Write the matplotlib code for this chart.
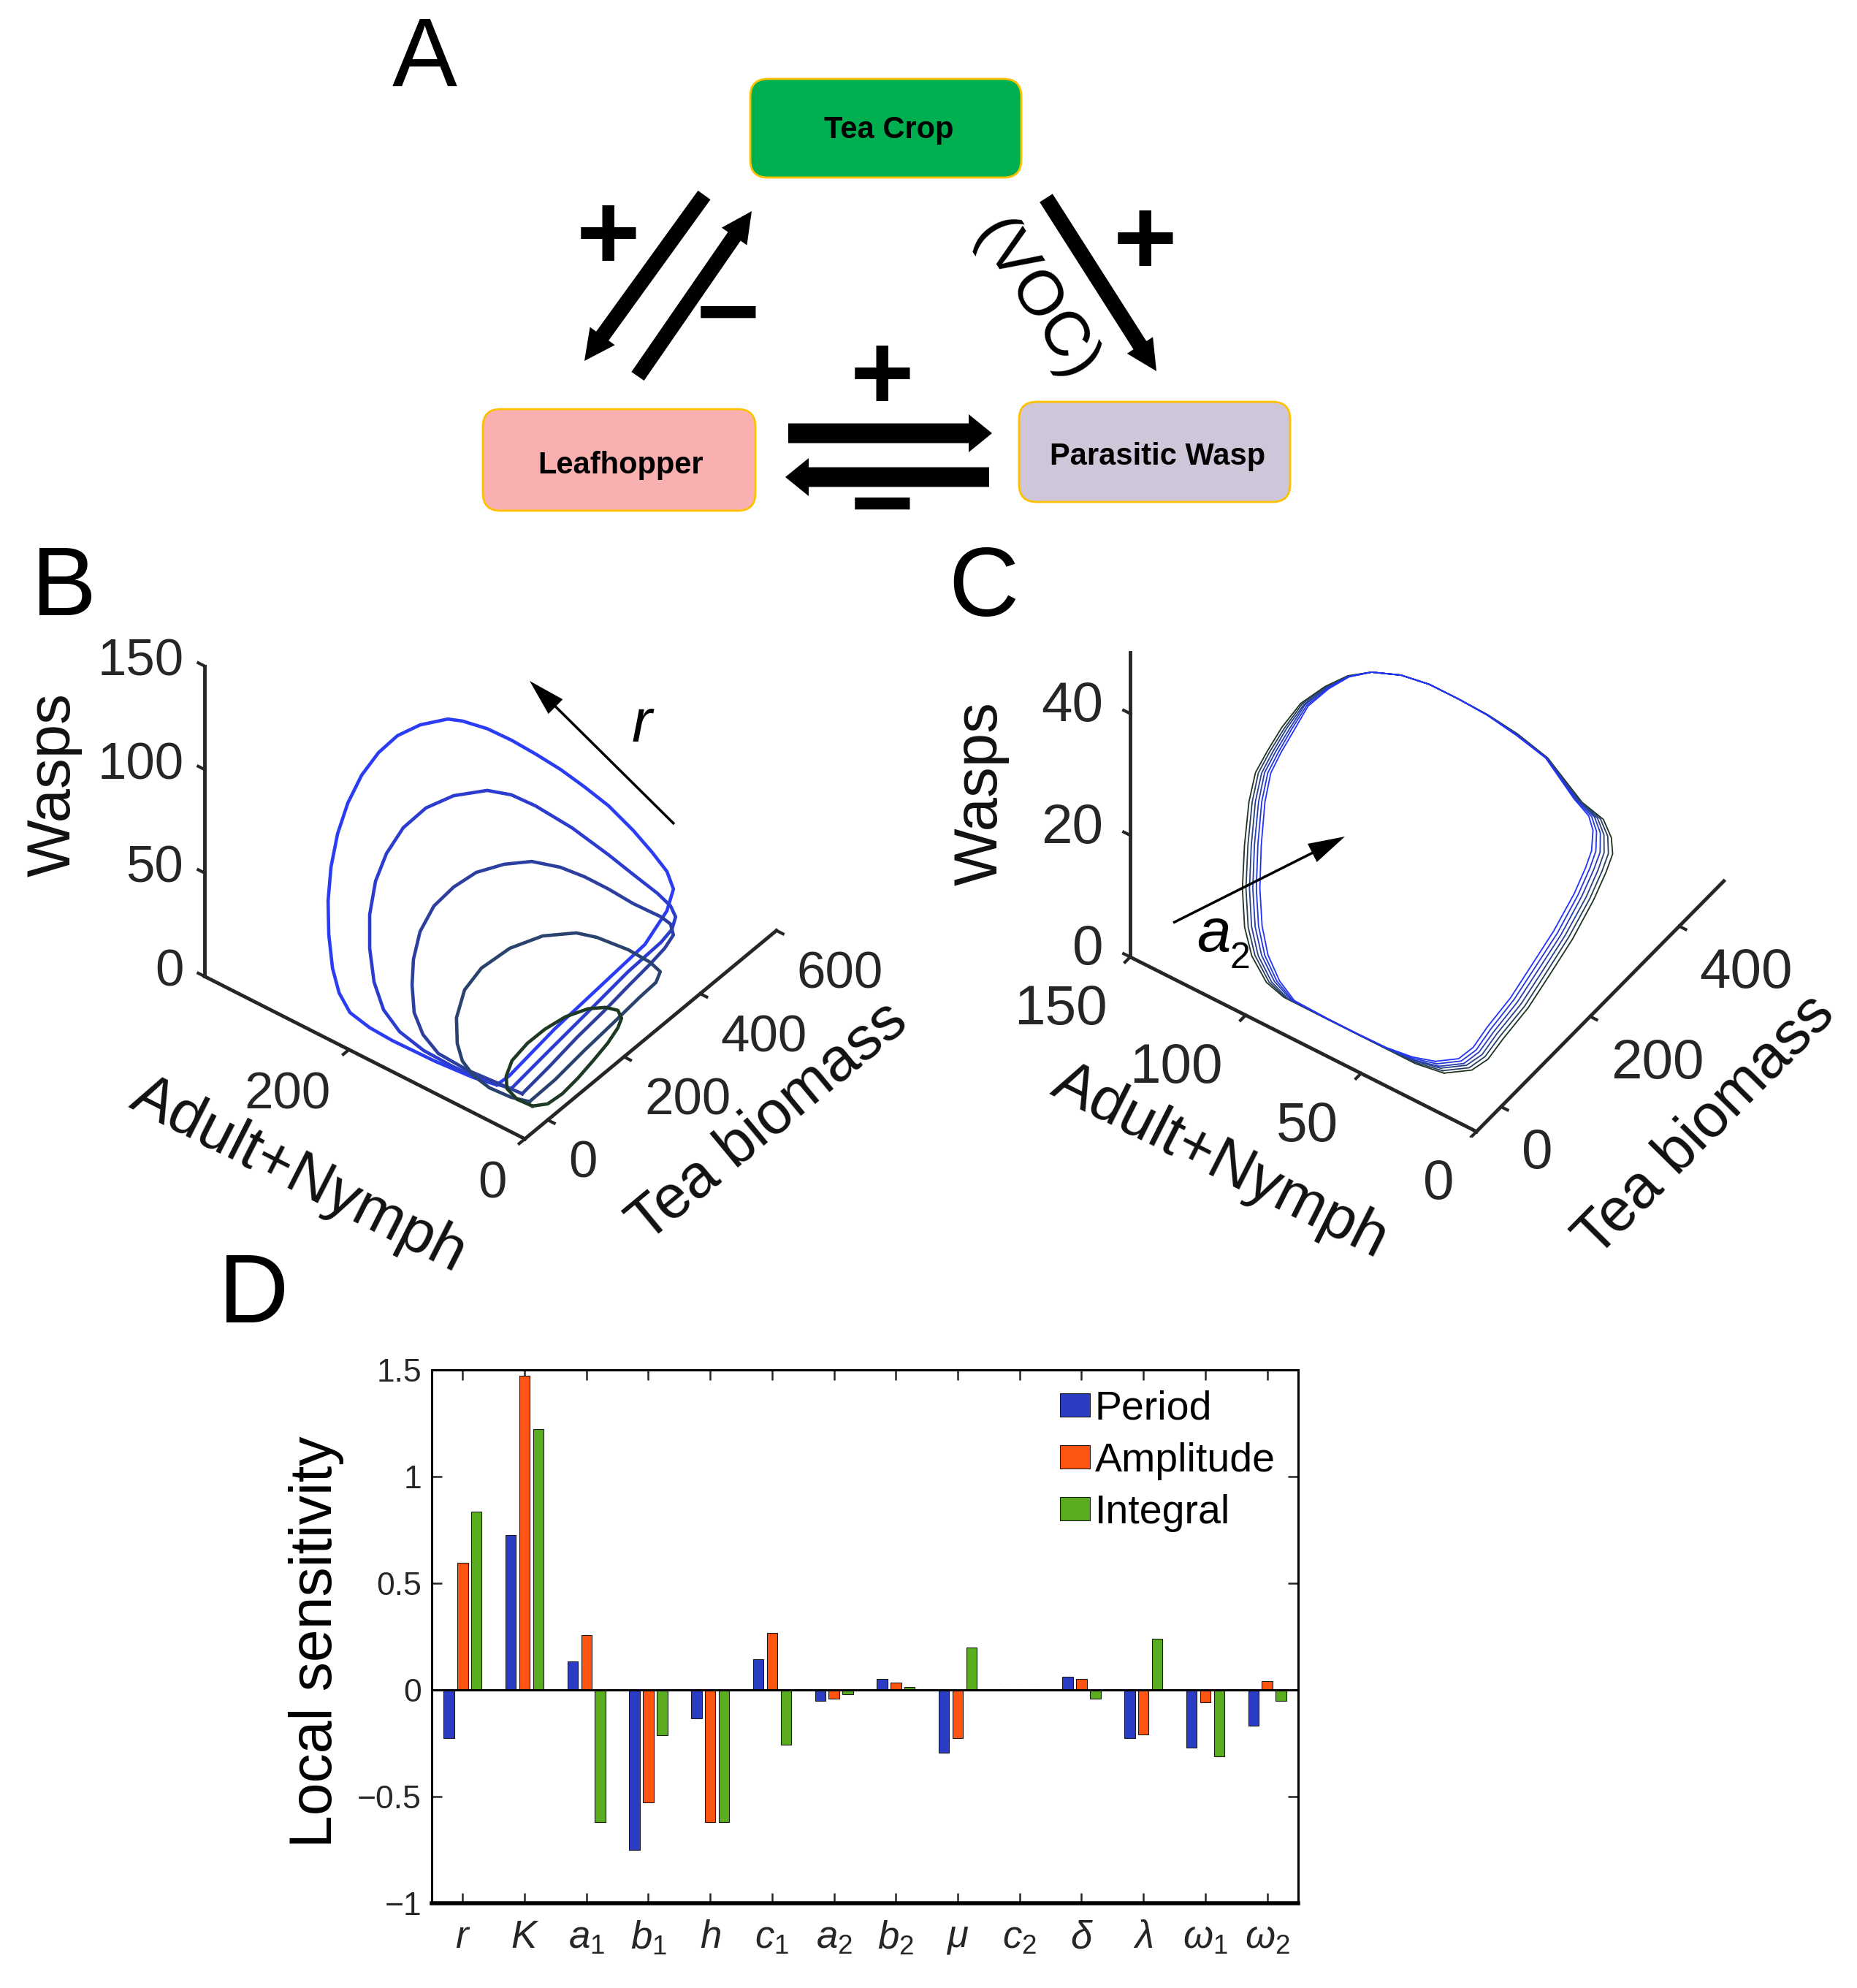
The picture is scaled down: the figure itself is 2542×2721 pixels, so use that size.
import numpy as np
import matplotlib
matplotlib.use('Agg')
import matplotlib.pyplot as plt
from matplotlib.patches import FancyBboxPatch, FancyArrow
from mpl_toolkits.mplot3d import proj3d

plt.rcParams['font.family'] = 'Liberation Sans'
plt.rcParams['mathtext.fontset'] = 'custom'
plt.rcParams['mathtext.it'] = 'Liberation Sans:italic'
plt.rcParams['mathtext.rm'] = 'Liberation Sans'

W_PX, H_PX = 2542, 2721

# ---------------- panel D : local sensitivity ----------------
params = [r'$r$', r'$K$', r'$a_1$', r'$b_1$', r'$h$', r'$c_1$', r'$a_2$', r'$b_2$',
          r'$\mu$', r'$c_2$', r'$\delta$', r'$\lambda$', r'$\omega_1$', r'$\omega_2$']
period = [-0.226, 0.727, 0.134, -0.751, -0.134, 0.143, -0.050, 0.052, -0.296, 0.003, 0.061, -0.226, -0.272, -0.168]
amplitude = [0.597, 1.472, 0.258, -0.526, -0.621, 0.268, -0.040, 0.033, -0.226, 0.002, 0.052, -0.210, -0.057, 0.042]
integral = [0.837, 1.224, -0.621, -0.214, -0.621, -0.258, -0.021, 0.013, 0.200, 0.002, -0.040, 0.239, -0.312, -0.050]

# ---------------- panel B : cycles for increasing r (tea, adult+nymph, wasps) ----------------
tea_b1 = [10, 25, 130, 240, 345, 420, 450, 455, 450, 438, 410, 385, 360, 335, 310, 280, 250, 230, 195, 165,
          135, 105, 80, 60, 42, 28, 18, 10, 6, 4, 3, 1, 1, 3]
adult_b1 = [62.4, 54.8, 48.0, 44.2, 39.0, 46.6, 52.1, 61.7, 76.2, 92.5, 108.6, 125.2, 141.7, 159.2, 175.7, 190.1,
            205.3, 213.3, 229.6, 242.4, 251.0, 257.1, 262.0, 265.0, 264.7, 261.9, 256.8, 249.1, 239.9, 226.6,
            203.8, 177.2, 128.2, 86.0]
wasp_b1 = [2.0, 5.6, 14.0, 18.5, 23.8, 26.9, 31.7, 37.4, 44.2, 53.1, 65.9, 75.3, 84.0, 91.5, 98.4, 105.4, 110.4,
           112.7, 111.7, 108.3, 102.8, 95.2, 84.5, 72.0, 58.7, 45.1, 31.5, 18.2, 8.8, 2.4, 0.2, 0.0, 0.5, 1.5]

tea_b2 = [20, 100, 190, 300, 385, 415, 425, 425, 418, 400, 375, 340, 300, 270, 240, 195, 155, 120, 90, 65,
          42, 25, 12, 6, 3, 3, 3, 5]
adult_b2 = [50.1, 47.5, 40.7, 38.6, 38.1, 38.6, 38.8, 44.6, 56.5, 76.1, 93.4, 119.8, 144.0, 158.4, 172.8, 191.5,
            205.7, 216.3, 222.4, 224.0, 220.7, 213.3, 202.7, 189.3, 169.8, 142.4, 109.2, 76.8]
wasp_b2 = [1.3, 5.6, 12.7, 17.6, 18.9, 20.5, 25.0, 29.0, 33.6, 41.2, 50.8, 63.5, 75.0, 81.8, 85.4, 85.7, 82.8,
           76.3, 67.1, 57.2, 45.2, 33.1, 21.1, 11.5, 5.6, 2.4, 1.8, 2.1]

tea_b3 = [20, 90, 160, 225, 290, 345, 380, 400, 402, 390, 372, 350, 325, 300, 270, 232, 190, 150, 112, 75,
          45, 25, 12, 6, 4, 4, 8]
adult_b3 = [37.7, 37.3, 36.1, 32.7, 34.3, 33.2, 31.7, 30.5, 34.6, 40.2, 64.0, 82.7, 99.2, 115.8, 135.2, 150.2,
            163.6, 172.0, 177.9, 177.7, 172.2, 165.1, 157.1, 144.5, 126.2, 93.0, 53.3]
wasp_b3 = [1.5, 4.0, 7.7, 11.6, 13.0, 15.5, 18.2, 21.8, 25.9, 30.0, 34.0, 40.4, 46.6, 51.4, 54.6, 55.8, 55.4,
           52.6, 48.0, 41.3, 33.7, 25.9, 16.2, 9.2, 4.3, 3.4, 3.8]

tea_b4 = [15, 75, 150, 220, 285, 325, 340, 335, 315, 280, 250, 200, 150, 100, 60, 30, 14, 8, 5, 5, 8]
adult_b4 = [27.2, 24.2, 23.5, 20.6, 19.7, 17.9, 19.4, 28.9, 45.1, 65.6, 75.9, 92.4, 108.1, 118.8, 120.6, 116.8,
            109.0, 100.6, 86.8, 68.5, 45.0]
wasp_b4 = [0.7, 2.8, 5.6, 9.0, 11.3, 13.0, 15.6, 18.9, 24.5, 31.4, 35.9, 38.5, 36.8, 32.5, 27.7, 19.6, 11.4,
           5.6, 2.0, 0.0, 0.0]

tea_b5 = [10, 30, 65, 110, 150, 185, 212, 225, 225, 210, 180, 140, 105, 80, 45, 25, 15, 10]
adult_b5 = [21.7, 13.0, 11.5, 13.6, 13.5, 12.0, 12.1, 13.6, 17.8, 25.4, 32.3, 40.7, 48.8, 57.8, 60.2, 58.1,
            52.9, 39.2]
wasp_b5 = [0.5, 0.4, 0.3, 0.4, 2.8, 6.3, 9.6, 11.9, 14.8, 16.9, 19.3, 19.7, 17.3, 12.4, 8.8, 4.8, 1.5, 0.0]

colors_b = ['#2b3cf5', '#2b3ccf', '#2c3f9f', '#29436e', '#1f3a24']

# ---------------- panel C : cycles for six a2 values (c0 = largest a2, innermost) ----------------
tea_c0 = [10, 35, 60, 90, 125, 160, 190, 220, 235, 240, 238, 232, 220, 200, 190, 180, 170, 160, 148, 135,
          120, 108, 95, 80, 70, 60, 48, 35, 20, 10, 5, 3, 2, 1, 1, 2, 4]
adult_c0 = [30.4, 25.1, 23.6, 23.4, 20.0, 17.9, 13.9, 10.8, 8.7, 7.1, 6.1, 6.8, 10.8, 19.3, 30.0, 40.8, 51.2,
            61.9, 71.9, 82.1, 89.0, 95.5, 101.9, 105.0, 108.8, 111.3, 111.5, 110.6, 108.3, 105.4, 101.9, 96.5,
            89.9, 75.0, 62.2, 50.1, 39.1]
wasp_c0 = [0.9, 0.5, 0.8, 1.9, 4.8, 7.8, 12.1, 16.6, 20.2, 22.9, 26.6, 29.3, 32.2, 38.8, 41.2, 43.2, 44.6,
           45.7, 46.2, 45.7, 44.7, 42.4, 39.3, 35.9, 32.2, 29.1, 25.2, 19.2, 13.7, 8.8, 5.1, 2.0, 0.1, 0.0,
           0.0, 0.0, 0.4]

tea_c1 = [8.5, 33.4, 58.3, 89, 125, 161, 193, 223, 238.4, 244.4, 242.4, 236, 222, 201, 190.4, 180.4, 170,
          160, 148, 135, 119.6, 107.4, 94, 78.4, 68, 58, 46, 33.6, 18.8, 9.2, 4.6, 2.6, 1.6, 0.8, 0.8, 1.6, 3.2]
adult_c1 = [29.4, 23.7, 22.0, 21.8, 18.5, 16.5, 12.8, 9.7, 7.6, 6.1, 5.4, 6.3, 10.5, 19.3, 30.0, 40.8, 51.2,
            61.9, 71.9, 82.1, 89.0, 95.7, 102.3, 105.8, 109.6, 112.2, 112.5, 111.8, 109.6, 106.8, 103.2, 97.6,
            90.7, 75.3, 62.4, 50.0, 38.7]
wasp_c1 = [0.8, 0.5, 0.8, 1.9, 4.8, 7.7, 11.8, 16.4, 20.0, 22.7, 26.2, 29.0, 32.0, 38.7, 41.2, 43.2, 44.6,
           45.7, 46.2, 45.7, 44.8, 42.5, 39.4, 36.0, 32.2, 29.1, 25.2, 19.1, 13.5, 8.6, 4.8, 1.8, 0.1, 0.0,
           0.0, 0.0, 0.3]

tea_c2 = [7.1, 31.8, 56.6, 88, 125, 162, 196, 226, 241.8, 248.8, 246.8, 240, 224, 202, 190.8, 180.8, 170,
          160, 148, 135, 119.2, 106.8, 93, 76.8, 66, 56, 44, 32.2, 17.6, 8.4, 4.2, 2.2, 1.2, 0.6, 0.6, 1.2, 2.4]
adult_c2 = [28.3, 22.2, 20.4, 20.2, 17.0, 15.1, 11.8, 8.6, 6.5, 5.1, 4.6, 5.8, 10.2, 19.3, 29.9, 40.8, 51.2,
            61.9, 71.9, 82.1, 89.1, 95.9, 102.8, 106.5, 110.4, 113.2, 113.5, 113.0, 110.9, 108.1, 104.5, 98.6,
            91.5, 75.6, 62.5, 49.9, 38.3]
wasp_c2 = [0.7, 0.5, 0.9, 1.9, 4.7, 7.6, 11.5, 16.2, 19.8, 22.4, 25.8, 28.7, 31.8, 38.6, 41.2, 43.2, 44.6,
           45.7, 46.2, 45.7, 44.8, 42.6, 39.5, 36.0, 32.3, 29.1, 25.1, 19.0, 13.4, 8.3, 4.6, 1.6, 0.1, 0.0,
           0.0, 0.0, 0.2]

tea_c3 = [5.6, 30.1, 54.9, 87, 125, 163, 199, 229, 245.2, 253.2, 251.2, 244, 226, 203, 191.2, 181.2, 170,
          160, 148, 135, 118.8, 106.2, 92, 75.2, 64, 54, 42, 30.8, 16.4, 7.6, 3.8, 1.8, 0.8, 0.4, 0.4, 0.8, 1.6]
adult_c3 = [27.3, 20.8, 18.8, 18.7, 15.4, 13.8, 10.7, 7.4, 5.3, 4.2, 3.9, 5.3, 9.9, 19.3, 29.9, 40.8, 51.2,
            61.9, 71.9, 82.1, 89.1, 96.1, 103.2, 107.3, 111.2, 114.1, 114.5, 114.1, 112.1, 109.5, 105.9, 99.7,
            92.4, 76.0, 62.7, 49.9, 37.8]
wasp_c3 = [0.7, 0.6, 0.9, 1.9, 4.7, 7.4, 11.3, 16.0, 19.7, 22.2, 25.3, 28.3, 31.6, 38.6, 41.3, 43.1, 44.6,
           45.7, 46.2, 45.7, 44.9, 42.6, 39.5, 36.1, 32.3, 29.0, 25.1, 18.8, 13.2, 8.1, 4.3, 1.3, 0.0, 0.0,
           0.0, 0.0, 0.2]

tea_c4 = [4.2, 28.5, 53.2, 86, 125, 164, 202, 232, 248.6, 257.6, 255.6, 248, 228, 204, 191.6, 181.6, 170,
          160, 148, 135, 118.4, 105.6, 91, 73.6, 62, 52, 40, 29.4, 15.2, 6.8, 3.4, 1.4, 0.4, 0.2, 0.2, 0.4, 0.8]
adult_c4 = [26.2, 19.3, 17.2, 17.1, 13.9, 12.4, 9.7, 6.3, 4.2, 3.2, 3.1, 4.8, 9.6, 19.3, 29.8, 40.8, 51.2,
            61.9, 71.9, 82.1, 89.2, 96.3, 103.7, 108.0, 112.0, 115.1, 115.5, 115.3, 113.4, 110.8, 107.2, 100.7,
            93.2, 76.3, 62.8, 49.8, 37.4]
wasp_c4 = [0.6, 0.6, 1.0, 1.9, 4.6, 7.3, 11.0, 15.8, 19.5, 21.9, 24.9, 28.0, 31.4, 38.5, 41.3, 43.1, 44.6,
           45.7, 46.2, 45.7, 44.9, 42.7, 39.6, 36.1, 32.4, 29.0, 25.0, 18.7, 13.1, 7.8, 4.1, 1.1, 0.0, 0.0,
           0.0, 0.0, 0.1]

tea_c5 = [2.7, 26.9, 51.5, 85, 125, 165, 205, 235, 252, 262, 260, 252, 230, 205, 192, 182, 170, 160, 148, 135,
          118, 105, 90, 72, 60, 50, 38, 28, 14, 6, 3, 1, 0, 0, 0, 0, 0]
adult_c5 = [25.2, 17.9, 15.6, 15.5, 12.4, 11.0, 8.6, 5.2, 3.1, 2.2, 2.4, 4.3, 9.3, 19.3, 29.8, 40.8, 51.2,
            61.9, 71.9, 82.1, 89.2, 96.5, 104.1, 108.8, 112.8, 116.0, 116.5, 116.5, 114.7, 112.2, 108.5, 101.8,
            94.0, 76.6, 63.0, 49.7, 37.0]
wasp_c5 = [0.5, 0.6, 1.0, 1.9, 4.6, 7.2, 10.7, 15.6, 19.3, 21.7, 24.5, 27.7, 31.2, 38.4, 41.3, 43.1, 44.6,
           45.7, 46.2, 45.7, 45.0, 42.8, 39.7, 36.2, 32.4, 29.0, 25.0, 18.6, 12.9, 7.6, 3.8, 0.9, 0.0, 0.0,
           0.0, 0.0, 0.0]

colors_c = ['#2233ff', '#2438d8', '#263db0', '#28418a', '#273f5e', '#1d3320']


fig = plt.figure(figsize=(W_PX / 100, H_PX / 100), dpi=100)


def rect(left, top, w, h):
    return [left / W_PX, 1 - (top + h) / H_PX, w / W_PX, h / H_PX]


def closed(v):
    return np.append(v, v[0])


# overlay in figure pixels (y downwards) for the diagram, letters and annotations
ov = fig.add_axes([0, 0, 1, 1], zorder=10)
ov.set_xlim(0, W_PX)
ov.set_ylim(H_PX, 0)
ov.axis('off')
ov.patch.set_visible(False)


def axes3d(pos, tlim, alim, wlim, elev, azim, aspect):
    ax = fig.add_axes(pos, projection='3d', proj_type='ortho', computed_zorder=False)
    ax.set_xlim(tlim)
    ax.set_ylim(alim)
    ax.set_zlim(wlim)
    ax.set_box_aspect(aspect)
    ax.view_init(elev=elev, azim=azim)
    ax.set_axis_off()
    ax.patch.set_visible(False)
    return ax


def frame3d(ax, tlim, alim, wlim, tticks, aticks, wticks, tk_t, tk_a):
    t0, t1 = tlim
    a0, a1 = alim
    w0, w1 = wlim
    kw = dict(color='#262626', lw=3.5, solid_capstyle='projecting', zorder=1)
    ax.plot([t0, t1], [a0, a0], [w0, w0], **kw)
    ax.plot([t0, t0], [a0, a1], [w0, w0], **kw)
    ax.plot([t0, t0], [a1, a1], [w0, w1], **kw)
    kw['lw'] = 3
    for t in tticks:
        ax.plot([t, t], [a0, a0 - tk_a], [w0, w0], **kw)
    for a in aticks:
        ax.plot([t0, t0 - tk_t], [a, a], [w0, w0], **kw)
    for w in wticks:
        ax.plot([t0, t0], [a1, a1 + tk_a], [w, w], **kw)


def px_of(ax, x, y, z):
    X, Y, _ = proj3d.proj_transform(x, y, z, ax.get_proj())
    dx, dy = ax.transData.transform((X, Y))
    return dx, H_PX - dy


def label_at(ax, x, y, z, s, dx, dy, ha='center', along=None, **kw):
    px, py = px_of(ax, x, y, z)
    rot = 0
    if along is not None:
        qx, qy = px_of(ax, x + along[0], y + along[1], z + along[2])
        rot = np.degrees(np.arctan2(py - qy, qx - px))
        rot = (rot + 180) % 180
        if rot > 90:
            rot -= 180
    ov.text(px + dx, py - dy, s, rotation=rot, ha=ha, va='center', **kw)


# ---------------- panel B ----------------
tlim_b, alim_b, wlim_b = (-60, 600), (0, 364), (0, 150)
axb = axes3d(rect(190.1, 636.6, 937.6, 937.6), tlim_b, alim_b, wlim_b, 40.4, -141.95, (559, 556.8, 558))
frame3d(axb, tlim_b, alim_b, wlim_b, [0, 200, 400, 600], [0, 200], [0, 50, 100, 150], 15, 7.4)
loops_b = [(tea_b1, adult_b1, wasp_b1), (tea_b2, adult_b2, wasp_b2), (tea_b3, adult_b3, wasp_b3),
           (tea_b4, adult_b4, wasp_b4), (tea_b5, adult_b5, wasp_b5)]
for (t, a, w), c in zip(loops_b, colors_b):
    axb.plot(closed(t), closed(a), closed(w), color=c, lw=3.3, zorder=3)

# ---------------- panel C ----------------
tlim_c, alim_c, wlim_c = (-55, 500), (0, 150), (0, 50)
axc = axes3d(rect(1446, 569, 988, 988), tlim_c, alim_c, wlim_c, 45.6, -144.8, (587, 580, 595))
frame3d(axc, tlim_c, alim_c, wlim_c, [0, 200, 400], [0, 50, 100, 150], [0, 20, 40], 11.5, 2.8)
loops_c = [(tea_c5, adult_c5, wasp_c5), (tea_c4, adult_c4, wasp_c4), (tea_c3, adult_c3, wasp_c3),
           (tea_c2, adult_c2, wasp_c2), (tea_c1, adult_c1, wasp_c1), (tea_c0, adult_c0, wasp_c0)]
for (t, a, w), c in zip(loops_c, colors_c[::-1]):
    axc.plot(closed(t), closed(a), closed(w), color=c, lw=1.3, zorder=3)

# ---------------- panel D ----------------
axd = fig.add_axes(rect(591, 1875, 1186, 730))
x = np.arange(1, len(params) + 1)
bw = 0.17
axd.bar(x - 0.222, period, bw, color='#2a3cc4', edgecolor='#1a1a1a', lw=0.8, label='Period', zorder=2)
axd.bar(x, amplitude, bw, color='#ff5512', edgecolor='#1a1a1a', lw=0.8, label='Amplitude', zorder=2)
axd.bar(x + 0.222, integral, bw, color='#5aad1e', edgecolor='#1a1a1a', lw=0.8, label='Integral', zorder=2)
axd.axhline(0, color='k', lw=2.2, zorder=3)
axd.set_xlim(0.5, 14.5)
axd.set_ylim(-1, 1.5)
axd.set_xticks(x)
axd.set_xticklabels(params, fontsize=38)
axd.set_yticks([-1, -0.5, 0, 0.5, 1, 1.5])
axd.set_yticklabels(['\u22121', '\u22120.5', '0', '0.5', '1', '1.5'], fontsize=32)
axd.tick_params(axis='both', direction='in', top=True, right=True, length=10, width=1.8, colors='#262626')
axd.tick_params(axis='x', pad=16)
axd.tick_params(axis='y', pad=10)
for s in ['left', 'right', 'top']:
    axd.spines[s].set_linewidth(2.2)
axd.spines['bottom'].set_linewidth(4)
axd.set_ylabel('Local sensitivity', fontsize=58)
axd.yaxis.set_label_coords(-0.101, 0.49)
axd.legend(loc='upper left', bbox_to_anchor=(0.725, 0.962), frameon=False, fontsize=40,
           handlelength=0.74, handleheight=0.52, handletextpad=0.12, labelspacing=0.34,
           borderpad=0, borderaxespad=0)

# ---------------- 3D tick and axis labels (placed from the projected axes) ----------------
fig.canvas.draw()
tk = dict(fontsize=51, color='#262626')
for w in [0, 50, 100, 150]:
    label_at(axb, -60, 364, w, str(w), -29, 5, ha='right', **tk)
for a in [0, 200]:
    label_at(axb, -60, a, 0, str(a), -25, -63, ha='right', **tk)
for t in [0, 200, 400, 600]:
    label_at(axb, t, 0, 0, str(t), 28, -61, ha='left', **tk)
lb = dict(fontsize=60, color='#111111')
label_at(axb, -60, 182, 0, 'Adult+Nymph', -91, -161, along=(0, 50, 0), **lb)
label_at(axb, 270, 0, 0, 'Tea biomass', 161, -120, along=(100, 0, 0), **lb)
label_at(axb, -60, 364, 75, 'Wasps', -207, 50, along=(0, 0, 20), **lb)

tk = dict(fontsize=55, color='#262626')
for w in [0, 20, 40]:
    label_at(axc, -55, 150, w, str(w), -37, 9, ha='right', **tk)
for a in [0, 50, 100, 150]:
    label_at(axc, -55, a, 0, str(a), -31, -73, ha='right', **tk)
for t in [0, 200, 400]:
    label_at(axc, t, 0, 0, str(t), 28, -65, ha='left', **tk)
label_at(axc, -55, 75, 0, 'Adult+Nymph', -114, -161, along=(0, 50, 0), **lb)
label_at(axc, 222.5, 0, 0, 'Tea biomass', 144, -164, along=(100, 0, 0), **lb)
label_at(axc, -55, 150, 25, 'Wasps', -204, 16, along=(0, 0, 20), **lb)

# ---------------- panel A diagram ----------------
boxes = [((1027, 108), 371, 135, '#00b050', 'Tea Crop', (1217, 178)),
         ((661, 560), 373, 139, '#f8b1b0', 'Leafhopper', (850, 637)),
         ((1395, 550), 371, 137, '#d0c6da', 'Parasitic Wasp', (1585, 625))]
for (bx, by), bwid, bh, fc, name, (tx, ty) in boxes:
    ov.add_patch(FancyBboxPatch((bx, by), bwid, bh, boxstyle='round,pad=0,rounding_size=24',
                                fc=fc, ec='#ffc000', lw=2))
    ov.text(tx, ty, name, fontsize=30, fontweight='bold', ha='center', va='center')

arrows = [(964, 267, -164, 227, 21, 42, 42), (873, 515, 156, -226, 21, 42, 42),
          (1432, 271, 151, 237, 21, 42, 42), (1079, 593, 279, 0, 27, 52, 32),
          (1354, 653, -279, 0, 27, 52, 32)]
for ax0, ay0, adx, ady, aw, hw, hl in arrows:
    ov.add_patch(FancyArrow(ax0, ay0, adx, ady, width=aw, head_width=hw, head_length=hl,
                            length_includes_head=True, fc='k', ec='k', lw=0))

sign = dict(fontsize=108, fontweight='bold', ha='center', va='center')
ov.text(833, 330, '+', **sign)
ov.text(1568, 337, '+', **sign)
ov.text(1208, 522, '+', **sign)
ov.text(997, 438, '\u2212', **sign)
ov.text(1208, 700, '\u2212', **sign)
ov.text(1417, 412, '(VOC)', fontsize=62, rotation=-57, ha='center', va='center')

letters = dict(fontsize=96, ha='center', va='center')
ov.text(581, 84, 'A', **letters)
ov.text(87, 808, 'B', **letters)
ov.text(1346, 808, 'C', **letters)
ov.text(347, 1776, 'D', **letters)

ov.add_patch(FancyArrow(923, 1128, -198, -196, width=3.5, head_width=28, head_length=50,
                        length_includes_head=True, fc='k', ec='k', lw=0))
ov.text(878, 993, 'r', fontsize=60, style='italic', ha='center', va='center')
ov.add_patch(FancyArrow(1606, 1263, 235, -118, width=3.5, head_width=28, head_length=50,
                        length_includes_head=True, fc='k', ec='k', lw=0))
ov.text(1661, 1280, 'a', fontsize=60, style='italic', ha='center', va='center')
ov.text(1697, 1312, '2', fontsize=36, ha='center', va='center')

fig.savefig('out.png', dpi=100)
